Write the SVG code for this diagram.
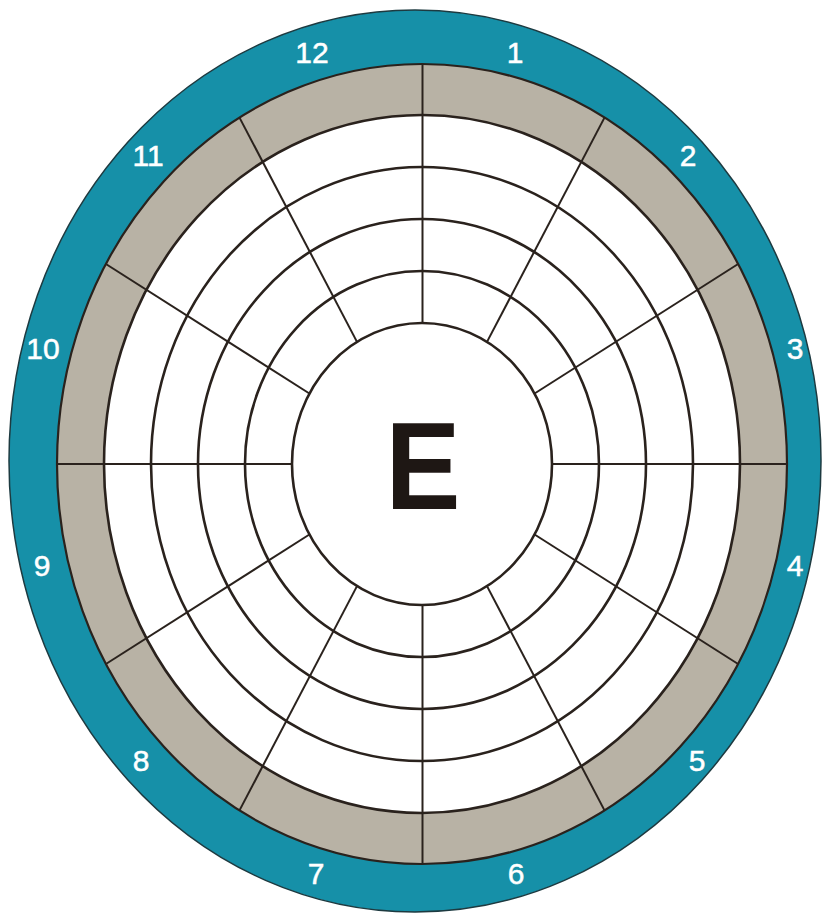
<svg xmlns="http://www.w3.org/2000/svg" width="826" height="915" viewBox="0 0 826 915">
<style>
.ring{fill:none;stroke:#2a221d;stroke-width:2.6}
.spoke{stroke:#2a221d;stroke-width:2;fill:none}
.num{font-family:"Liberation Sans",Arial,sans-serif;font-size:30px;fill:#ffffff;text-anchor:middle;stroke:#ffffff;stroke-width:0.5}
.big{font-family:"Liberation Sans",Arial,sans-serif;font-weight:bold;font-size:124px;fill:#1e1714;text-anchor:middle}
</style>
<rect x="0" y="0" width="826" height="915" fill="#ffffff"/>
<g id="outer-ring">
<ellipse cx="415" cy="461" rx="406" ry="451" fill="#1690a8" stroke="#1d3a40" stroke-width="1.5"/>
</g>
<g id="gray-band">
<ellipse cx="422" cy="464" rx="365" ry="400" fill="#b8b2a5" stroke="#2a221d" stroke-width="2.2"/>
<ellipse cx="422" cy="464" rx="318" ry="349" fill="#ffffff" stroke="#2a221d" stroke-width="2.6"/>
</g>
<g id="rings">
<ellipse class="ring" cx="422" cy="464" rx="271" ry="297"/>
<ellipse class="ring" cx="422" cy="464" rx="224" ry="245"/>
<ellipse class="ring" cx="422" cy="464" rx="177" ry="193"/>
<ellipse class="ring" cx="422" cy="464" rx="130" ry="141"/>
</g>
<g id="connectors">
<line class="spoke" x1="552" y1="464" x2="787" y2="464"/>
<line class="spoke" x1="534.6" y1="534.5" x2="738.1" y2="664"/>
<line class="spoke" x1="487" y1="586.1" x2="604.5" y2="810.4"/>
<line class="spoke" x1="422.5" y1="605" x2="422.5" y2="864"/>
<line class="spoke" x1="357" y1="586.1" x2="239.5" y2="810.4"/>
<line class="spoke" x1="309.4" y1="534.5" x2="105.9" y2="664"/>
<line class="spoke" x1="292" y1="464" x2="57" y2="464"/>
<line class="spoke" x1="309.4" y1="393.5" x2="105.9" y2="264"/>
<line class="spoke" x1="357" y1="341.9" x2="239.5" y2="117.6"/>
<line class="spoke" x1="422.5" y1="323" x2="422.5" y2="64"/>
<line class="spoke" x1="487" y1="341.9" x2="604.5" y2="117.6"/>
<line class="spoke" x1="534.6" y1="393.5" x2="738.1" y2="264"/>
</g>
<g id="labels">
<text class="num" x="515" y="63">1</text>
<text class="num" x="688" y="166">2</text>
<text class="num" x="795" y="359">3</text>
<text class="num" x="795" y="576">4</text>
<text class="num" x="697" y="771">5</text>
<text class="num" x="516" y="884">6</text>
<text class="num" x="316" y="884">7</text>
<text class="num" x="141" y="771">8</text>
<text class="num" x="42" y="576">9</text>
<text class="num" x="43" y="359">10</text>
<text class="num" x="148" y="166">11</text>
<text class="num" x="312" y="63">12</text>
</g>
<g id="center">
<text class="big" x="423" y="509" textLength="75" lengthAdjust="spacingAndGlyphs">E</text>
</g>
</svg>
